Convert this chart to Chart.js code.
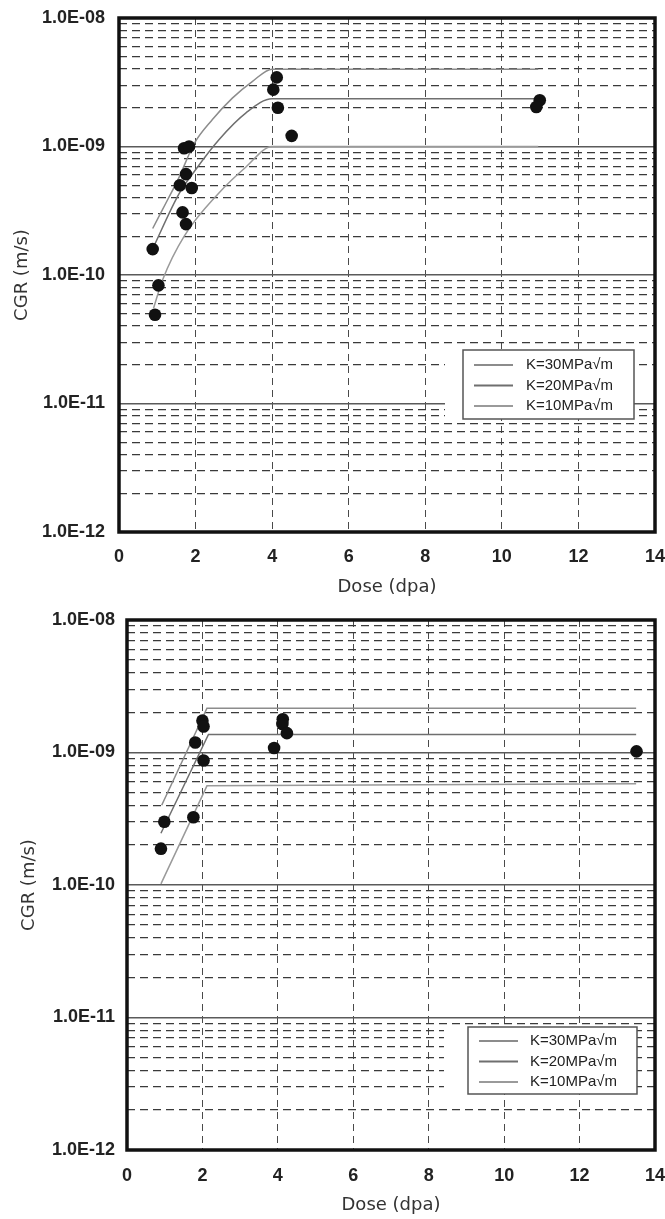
<!DOCTYPE html>
<html>
<head>
<meta charset="utf-8">
<script src="https://cdn.jsdelivr.net/npm/chart.js@4.4.1/dist/chart.umd.min.js"></script>
<style>
    body { margin: 0; background: #fff; }
    #wrap { position: relative; width: 665px; height: 1219px; }
    canvas { position: absolute; left: 0; }
    #upper { top: 0; }
    #lower { top: 600px; }
</style>
</head>
<body>
<div id="wrap">
    <canvas id="upper" width="665" height="600"></canvas>
    <canvas id="lower" width="665" height="619"></canvas>
</div>
<script>
// upper plot: measured points
const upperDose = [0.88, 1.03, 0.94, 1.70, 1.83, 1.75, 1.59, 1.90, 1.66, 1.75, 4.12, 4.03, 4.15, 4.51, 10.99, 10.90];
const upperCgr = [1.59e-10, 8.3e-11, 4.9e-11, 9.7e-10, 1.0e-9, 6.1e-10, 5.0e-10, 4.75e-10, 3.07e-10, 2.49e-10,
                  3.45e-9, 2.77e-9, 2.0e-9, 1.21e-9, 2.29e-9, 2.03e-9];

// upper plot: model curves
const upperK30Dose = [0.88, 1.27, 1.55, 1.97, 2.44, 2.96, 3.48, 4.0, 10.95];
const upperK30Cgr = [2.3e-10, 3.85e-10, 5.6e-10, 1.06e-9, 1.62e-9, 2.38e-9, 3.2e-9, 4.0e-9, 4.0e-9];
const upperK20Dose = [0.88, 1.57, 2.0, 2.61, 3.31, 4.0, 10.9];
const upperK20Cgr = [1.6e-10, 4.3e-10, 6.6e-10, 1.13e-9, 1.82e-9, 2.35e-9, 2.35e-9];
const upperK10Dose = [0.9, 1.14, 1.7, 2.61, 3.31, 4.0, 10.95];
const upperK10Cgr = [5.5e-11, 9.2e-11, 2.0e-10, 4.35e-10, 6.9e-10, 1.0e-9, 1.0e-9];

// lower plot: measured points
const lowerDose = [0.90, 0.99, 1.76, 1.81, 2.0, 2.03, 2.03, 3.90, 4.13, 4.12, 4.24, 13.51];
const lowerCgr = [1.88e-10, 3.0e-10, 3.25e-10, 1.19e-9, 1.74e-9, 1.57e-9, 8.7e-10, 1.08e-9, 1.78e-9, 1.64e-9, 1.4e-9, 1.02e-9];

// lower plot: model curves
const lowerK30Dose = [0.92, 2.12, 13.5];
const lowerK30Cgr = [4.0e-10, 2.16e-9, 2.16e-9];
const lowerK20Dose = [0.9, 2.16, 13.5];
const lowerK20Cgr = [2.46e-10, 1.37e-9, 1.37e-9];
const lowerK10Dose = [0.9, 2.12, 13.5];
const lowerK10Cgr = [1.02e-10, 5.6e-10, 5.8e-10];

const curveLabels = ['K=30MPa\u221Am', 'K=20MPa\u221Am', 'K=10MPa\u221Am'];
const curveColors = ['#8c8c8c', '#6f6f6f', '#9a9a9a'];

// log axis: decades and the minor steps inside each one
const yDecades = [-12, -11, -10, -9, -8];
const yMinorSteps = [2, 3, 4, 5, 6, 7, 8, 9];

const yTickValues = [];
yDecades.forEach(function(e, i) {
    yTickValues.push(Math.pow(10, e));
    if (i < yDecades.length - 1) {
        yMinorSteps.forEach(s => yTickValues.push(s * Math.pow(10, e)));
    }
});

function isDecade(v) {
    const l = Math.log10(v);
    return Math.abs(l - Math.round(l)) < 1e-6;
}

function fmtDecade(v) {
    const e = Math.round(Math.log10(v));
    return '1.0E' + (e < 0 ? '-' : '+') + String(Math.abs(e)).padStart(2, '0');
}

function zip(xs, ys) {
    return xs.map((x, i) => ({x: x, y: ys[i]}));
}

const tickFont = {family: '"Liberation Sans", Arial, sans-serif', size: 18, weight: 'bold'};
const titleFont = {family: '"DejaVu Sans", sans-serif', size: 18, weight: 'normal'};

const frame = {
    id: 'frame',
    afterDraw(chart) {
        const {ctx, chartArea: a} = chart;
        ctx.save();
        ctx.strokeStyle = '#111';
        ctx.lineWidth = 3.5;
        ctx.strokeRect(a.left, a.top, a.right - a.left, a.bottom - a.top);
        ctx.restore();
    }
};

const kLegend = {
    id: 'kLegend',
    afterDatasetsDraw(chart, args, opts) {
        const {ctx, chartArea: a} = chart;
        const x0 = a.right - opts.right - opts.width;
        const y0 = a.bottom - opts.bottom - opts.height;
        ctx.save();
        ctx.fillStyle = '#fff';
        ctx.fillRect(x0 - opts.gap, y0, opts.width + opts.gap, opts.height);
        ctx.strokeStyle = '#555';
        ctx.lineWidth = 1.5;
        ctx.strokeRect(x0, y0, opts.width, opts.height);
        ctx.font = '15px "Liberation Sans", Arial, sans-serif';
        ctx.textBaseline = 'middle';
        ctx.fillStyle = '#222';
        const items = chart.data.datasets.filter(d => d.showLine);
        items.forEach(function(d, i) {
            const y = y0 + opts.rowTop + i * opts.rowGap;
            ctx.strokeStyle = d.borderColor;
            ctx.lineWidth = 2;
            ctx.beginPath();
            ctx.moveTo(x0 + 11, y);
            ctx.lineTo(x0 + 50, y);
            ctx.stroke();
            ctx.fillText(d.label, x0 + opts.textX, y);
        });
        ctx.restore();
    }
};

function noPad(s) {
    s.paddingLeft = 0;
    s.paddingRight = 0;
    s.paddingTop = 0;
    s.paddingBottom = 0;
}

function makeChart(id, dose, cgr, curves, lay) {
    const datasets = [{
        label: 'data',
        data: zip(dose, cgr),
        showLine: false,
        pointRadius: 6.3,
        pointBackgroundColor: '#111',
        pointBorderColor: '#111',
        pointBorderWidth: 0
    }];
    curves.forEach(function(c, i) {
        datasets.push({
            label: curveLabels[i],
            data: zip(c[0], c[1]),
            showLine: true,
            borderColor: curveColors[i],
            borderWidth: 1.5,
            pointRadius: 0,
            cubicInterpolationMode: lay.smooth ? 'monotone' : 'default',
            tension: 0,
            fill: false
        });
    });

    const config = {
        type: 'scatter',
        data: {datasets: datasets},
        options: {
            responsive: false,
            animation: false,
            devicePixelRatio: 1,
            layout: {padding: {top: lay.padTop, right: 10, left: 0, bottom: 0}},
            plugins: {
                legend: {display: false},
                tooltip: {enabled: false},
                kLegend: lay.legend
            },
            scales: {
                x: {
                    type: 'linear',
                    min: 0,
                    max: 14,
                    afterFit: s => { s.height = lay.xHeight; noPad(s); },
                    ticks: {stepSize: 2, padding: lay.xTickPad, color: '#222', font: tickFont},
                    grid: {drawTicks: false, color: '#4a4a4a', lineWidth: 1},
                    border: {display: false, dash: [7, 5]},
                    title: {
                        display: true,
                        text: 'Dose (dpa)',
                        color: '#333',
                        font: titleFont,
                        padding: {top: 0, bottom: lay.xTitlePad}
                    }
                },
                y: {
                    type: 'logarithmic',
                    min: 1e-12,
                    max: 1e-8,
                    afterBuildTicks: s => { s.ticks = yTickValues.map(v => ({value: v})); },
                    afterFit: s => { s.width = lay.yWidth; noPad(s); },
                    ticks: {
                        autoSkip: false,
                        padding: lay.yTickPad,
                        color: '#222',
                        font: tickFont,
                        callback: v => isDecade(v) ? fmtDecade(v) : ''
                    },
                    grid: {
                        drawTicks: false,
                        color: c => (c.tick && isDecade(c.tick.value)) ? '#5a5a5a' : '#3a3a3a',
                        lineWidth: c => (c.tick && isDecade(c.tick.value)) ? 1.6 : 1.3
                    },
                    border: {
                        display: false,
                        dash: c => (c.tick && isDecade(c.tick.value)) ? [] : [8, 5]
                    },
                    title: {
                        display: true,
                        text: 'CGR (m/s)',
                        color: '#333',
                        font: titleFont,
                        padding: {top: lay.yTitlePad, bottom: 0}
                    }
                }
            }
        },
        plugins: [kLegend, frame]
    };

    const canvas = document.getElementById(id);
    return new Chart(canvas.getContext('2d'), config);
}

makeChart('upper', upperDose, upperCgr,
    [[upperK30Dose, upperK30Cgr], [upperK20Dose, upperK20Cgr], [upperK10Dose, upperK10Cgr]],
    {
        smooth: true, padTop: 18, xHeight: 68, yWidth: 119,
        xTickPad: 14, xTitlePad: 2, yTickPad: 14, yTitlePad: 12,
        legend: {right: 21, bottom: 113, width: 171, height: 69, gap: 18, rowTop: 15, rowGap: 20.5, textX: 63}
    });

makeChart('lower', lowerDose, lowerCgr,
    [[lowerK30Dose, lowerK30Cgr], [lowerK20Dose, lowerK20Cgr], [lowerK10Dose, lowerK10Cgr]],
    {
        smooth: false, padTop: 20, xHeight: 69, yWidth: 127,
        xTickPad: 15, xTitlePad: 3, yTickPad: 12, yTitlePad: 19,
        legend: {right: 18, bottom: 56, width: 169, height: 67, gap: 24, rowTop: 14, rowGap: 20.5, textX: 62}
    });
</script>
</body>
</html>
